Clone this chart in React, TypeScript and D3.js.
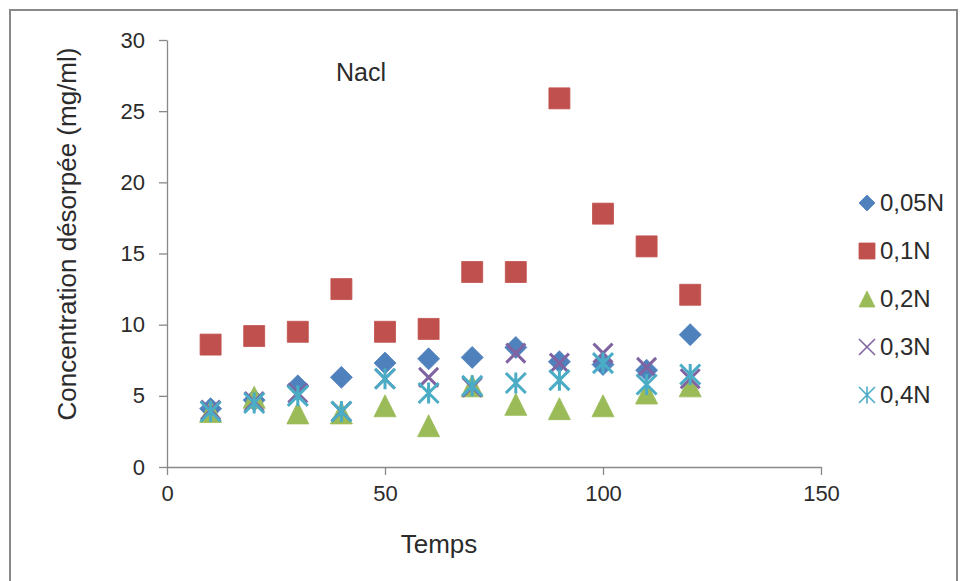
import { useEffect, useRef } from 'react';
import * as d3 from 'd3';

const temps = [10, 20, 30, 40, 50, 60, 70, 80, 90, 100, 110, 120];
const n005 = [4.1, 4.7, 5.7, 6.3, 7.3, 7.6, 7.7, 8.4, 7.4, 7.2, 6.8, 9.3];
const n01 = [8.6, 9.2, 9.5, 12.5, 9.5, 9.7, 13.7, 13.7, 25.9, 17.8, 15.5, 12.1];
const n02 = [3.9, 4.9, 3.8, 3.8, 4.3, 2.9, 5.7, 4.4, 4.1, 4.3, 5.2, 5.7];
const n03 = [4.0, 4.6, 5.2, 3.9, 6.2, 6.3, 5.6, 8.0, 7.3, 8.0, 7.0, 6.2];
const n04 = [3.9, 4.5, 5.0, 3.9, 6.2, 5.2, 5.7, 5.9, 6.1, 7.3, 5.8, 6.5];

const seriesNames = ['0,05N', '0,1N', '0,2N', '0,3N', '0,4N'];
const xTicks = [0, 50, 100, 150];
const yTicks = [0, 5, 10, 15, 20, 25, 30];

type Kind = 'diamond' | 'square' | 'triangle' | 'x' | 'star';

// marker path centered at 0,0, s = half size
const markerPath = (kind: Kind, s: number) => {
  const p = d3.path();
  if (kind === 'diamond') {
    p.moveTo(0, -s); p.lineTo(s, 0); p.lineTo(0, s); p.lineTo(-s, 0); p.closePath();
  } else if (kind === 'square') {
    p.rect(-s, -s, 2 * s, 2 * s);
  } else if (kind === 'triangle') {
    p.moveTo(0, -s); p.lineTo(s, s); p.lineTo(-s, s); p.closePath();
  } else if (kind === 'x') {
    p.moveTo(-s, -s); p.lineTo(s, s); p.moveTo(s, -s); p.lineTo(-s, s);
  } else {
    p.moveTo(-s, -s); p.lineTo(s, s); p.moveTo(s, -s); p.lineTo(-s, s);
    p.moveTo(0, -s * 1.05); p.lineTo(0, s * 1.05);
  }
  return p.toString();
};

const series: { name: string; values: number[]; kind: Kind; color: string; size: number }[] = [
  { name: seriesNames[0], values: n005, kind: 'diamond', color: '#4F81BD', size: 11 },
  { name: seriesNames[1], values: n01, kind: 'square', color: '#C0504D', size: 10.5 },
  { name: seriesNames[2], values: n02, kind: 'triangle', color: '#9BBB59', size: 11 },
  { name: seriesNames[3], values: n03, kind: 'x', color: '#8064A2', size: 9.5 },
  { name: seriesNames[4], values: n04, kind: 'star', color: '#4BACC6', size: 10 },
];

const App = () => {
  const ref = useRef<SVGSVGElement>(null);

  useEffect(() => {
    const svg = d3.select(ref.current);
    svg.selectAll('*').remove();

    const font = '"Liberation Sans", Arial, sans-serif';
    const axisColor = '#898989';
    const textColor = '#2b2b2b';

    const x = d3.scaleLinear().domain([0, 150]).range([167, 821]);
    const y = d3.scaleLinear().domain([0, 30]).range([467, 40]);

    svg.append('rect')
      .attr('x', 0).attr('y', 0).attr('width', 961).attr('height', 581)
      .attr('fill', '#fff');

    // outer chart border
    svg.append('rect')
      .attr('x', 10).attr('y', 10).attr('width', 947).attr('height', 600)
      .attr('fill', 'none').attr('stroke', axisColor).attr('stroke-width', 2);

    const yAxis = svg.append('g')
      .attr('transform', `translate(${x(0)},0)`)
      .call(d3.axisLeft(y).tickValues(yTicks).tickSize(8).tickSizeOuter(0).tickPadding(14));
    const xAxis = svg.append('g')
      .attr('transform', `translate(0,${y(0)})`)
      .call(d3.axisBottom(x).tickValues(xTicks).tickSize(8).tickSizeOuter(0).tickPadding(10));

    [xAxis, yAxis].forEach(g => {
      g.select('.domain').attr('stroke', axisColor).attr('stroke-width', 1.3);
      g.selectAll('.tick line').attr('stroke', axisColor).attr('stroke-width', 1.3);
      g.selectAll('.tick text')
        .attr('fill', textColor)
        .style('font-family', font)
        .style('font-size', '22px');
    });

    svg.append('text')
      .attr('x', 439).attr('y', 553)
      .attr('text-anchor', 'middle')
      .attr('fill', textColor)
      .style('font-family', font).style('font-size', '26px')
      .text('Temps');

    svg.append('text')
      .attr('transform', 'translate(76,234) rotate(-90)')
      .attr('text-anchor', 'middle')
      .attr('fill', textColor)
      .style('font-family', font).style('font-size', '26px')
      .text('Concentration désorpée  (mg/ml)');

    svg.append('text')
      .attr('x', 336).attr('y', 81)
      .attr('fill', textColor)
      .style('font-family', font).style('font-size', '25px')
      .text('Nacl');

    const plot = svg.append('g');
    series.forEach(s => {
      const filled = s.kind !== 'x' && s.kind !== 'star';
      plot.append('g')
        .selectAll('path')
        .data(s.values.map((v, i) => [temps[i], v] as [number, number]))
        .join('path')
        .attr('transform', d => `translate(${x(d[0])},${y(d[1])})`)
        .attr('d', markerPath(s.kind, s.size))
        .attr('fill', filled ? s.color : 'none')
        .attr('stroke', s.color)
        .attr('stroke-width', filled ? 0.8 : 3);
    });

    // legend
    const legend = svg.append('g');
    series.forEach((s, i) => {
      const ly = 203 + i * 48;
      const filled = s.kind !== 'x' && s.kind !== 'star';
      legend.append('path')
        .attr('transform', `translate(867,${ly})`)
        .attr('d', markerPath(s.kind, 8))
        .attr('fill', filled ? s.color : 'none')
        .attr('stroke', s.color)
        .attr('stroke-width', filled ? 0.8 : 1.6);
      legend.append('text')
        .attr('x', 880).attr('y', ly)
        .attr('dy', '0.35em')
        .attr('fill', textColor)
        .style('font-family', font).style('font-size', '24px')
        .text(s.name);
    });
  }, []);

  return (
    <svg
      ref={ref}
      width={961}
      height={581}
      style={{ position: 'absolute', left: 0, top: 0 }}
    />
  );
};

export default App;
